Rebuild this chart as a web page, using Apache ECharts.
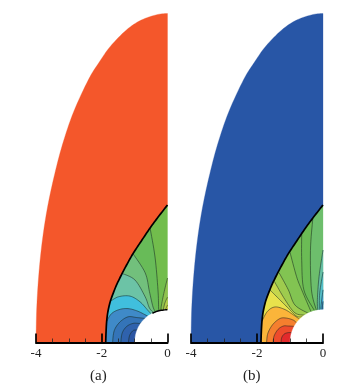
<!DOCTYPE html>
<html><head><meta charset="utf-8">
<style>html,body{margin:0;padding:0;background:#fff}#c{width:346px;height:389px}</style>
<script src="https://cdn.jsdelivr.net/npm/echarts@6/dist/echarts.min.js"></script></head>
<body><div id="c"></div>
<script>
const xTicks=[-4,-2,0];
const panelLabels=['(a)','(b)'];
const outerBoundary=[[-4,0],[-3.98,1],[-3.92,2],[-3.82,3],[-3.67,4],[-3.46,5],[-3.2,6],[-2.86,7],[-2.4,8],[-2.09,8.5],[-1.74,9],[-1.25,9.5],[-.8,9.8],[-.3,9.97],[0,10]];
const shockLine=[[0,4.18],[-.28,3.82],[-.53,3.48],[-.8,3.08],[-1.05,2.7],[-1.22,2.4],[-1.38,2.1],[-1.55,1.75],[-1.65,1.5],[-1.74,1.25],[-1.81,.95],[-1.85,.65],[-1.87,.3],[-1.88,0]];
const bodyArc=[[-1,0],[-.966,.26],[-.87,.5],[-.71,.71],[-.5,.87],[-.26,.966],[0,1]];
const bodyTopA=[[-.46,.89],[-.26,.966],[0,1]];

const contoursA=[
 [[-1.19,0],[-1.15,.22],[-1.05,.36],[-.95,.38],[-.9,.42]],
 [[-1.42,0],[-1.38,.28],[-1.25,.48],[-1.05,.58],[-.85,.58],[-.8,.6]],
 [[-1.67,0],[-1.62,.36],[-1.45,.62],[-1.2,.78],[-.95,.76],[-.68,.73]],
 [[-1.85,.65],[-1.7,.88],[-1.47,1.0],[-1.2,1.03],[-.9,.95],[-.6,.8]],
 [[-1.74,1.25],[-1.49,1.39],[-1.14,1.41],[-.84,1.24],[-.6,.98],[-.5,.87]],
 [[-1.38,2.1],[-.99,1.9],[-.68,1.39],[-.55,1.05],[-.42,.9]],
 [[-1.05,2.7],[-.68,2.12],[-.55,1.55],[-.44,1.08],[-.36,.93]],
 [[-.53,3.48],[-.38,2.6],[-.29,1.6],[-.27,1.05],[-.26,.966]]
];
const colorsA=['#2b55a3','#2f62ad','#3474b8','#3f8ac8','#40bfdd','#6cc3a6','#72c07c','#68bb58'];
const baseA='#72bd4c';
const pocketsA=[
 [[0,1.96],[-.1,1.55],[-.19,1.1],[-.19,.98]],
 [[0,1.38],[-.08,1.2],[-.13,.99]],
 [[0,1.14],[-.06,1]]
];
const pocketColorsA=['#8fc24d','#b5cc4c','#d9da4c'];
const freeA='#f4572b';

const contoursB=[
 [[-1.27,0],[-1.25,.15],[-1.17,.26],[-1.05,.3],[-.95,.3]],
 [[-1.51,0],[-1.48,.2],[-1.36,.4],[-1.2,.5],[-1.05,.5],[-.87,.49]],
 [[-1.71,0],[-1.67,.28],[-1.52,.55],[-1.3,.73],[-1.1,.74],[-.9,.68],[-.8,.6]],
 [[-1.85,.65],[-1.68,.95],[-1.45,1.08],[-1.15,1],[-.9,.84],[-.71,.71]],
 [[-1.61,1.6],[-1.35,1.34],[-1.05,1.04],[-.8,.8],[-.62,.78]],
 [[-1.47,1.85],[-1.15,1.3],[-.85,.9],[-.55,.83]],
 [[-1.33,2.12],[-1.05,1.6],[-.85,1.14],[-.45,.89]],
 [[-1,2.74],[-.8,2.0],[-.645,1.6],[-.36,.93]],
 [[-.645,3.33],[-.645,2.5],[-.58,1.6],[-.26,.97]],
 [[-.31,3.76],[-.38,2.8],[-.35,1.6],[-.2,.98]]
];
const colorsB=['#e32a2c','#ee4b2c','#f57f2e','#fbb53a','#e8e14c','#c5d64d','#9ecb4e','#82c452','#73bf53','#6bbc55'];
const baseB='#6dbe6c';
const pocketsB=[
 [[0,2.81],[-.12,2.0],[-.17,1.3],[-.16,.98]],
 [[0,2.14],[-.1,1.5],[-.11,.99]],
 [[0,1.6],[-.05,1.2],[-.07,1]],
 [[0,1.25],[-.03,1]]
];
const pocketColorsB=['#65bfa4','#54bfc9','#43abe0','#3a78bd'];
const freeB='#2856a6';

function curve(p){
  const out=[];
  for(let i=0;i<p.length-1;i++){
    const a=p[Math.max(i-1,0)],b=p[i],c=p[i+1],d=p[Math.min(i+2,p.length-1)];
    for(let k=0;k<8;k++){
      const t=k/8,t2=t*t,t3=t2*t;
      out.push([0,1].map(j=>.5*(2*b[j]+(c[j]-a[j])*t+(2*a[j]-5*b[j]+4*c[j]-d[j])*t2+(3*b[j]-a[j]-3*c[j]+d[j])*t3)));
    }
  }
  out.push(p[p.length-1]);
  return out;
}
function fillSeries(ax,layers,z){
  return {type:'custom',coordinateSystem:'cartesian2d',xAxisIndex:ax,yAxisIndex:ax,silent:true,clip:false,z,
    data:layers.map((l,i)=>[i]),
    renderItem(params,api){
      const l=layers[params.dataIndex];
      return {type:l.line?'polyline':'polygon',shape:{points:l.pts.map(p=>api.coord(p))},
        style:l.line?{stroke:l.line,lineWidth:l.w,fill:null}:{fill:l.fill,stroke:l.fill,lineWidth:.3}};
    }};
}
function panel(ax,contours,colors,base,pockets,pocketColors,free,topLine){
  const sh=curve(shockLine);
  const fills=[{pts:[...sh,[-.3,0],[0,0]],fill:base}];
  for(let i=contours.length-1;i>=0;i--){
    const c=curve(contours[i]);
    fills.push({pts:[[-3,0],[-3,c[0][1]],...c,[-.3,.3],[-.3,0]],fill:colors[i]});
  }
  pockets.forEach((q,i)=>fills.push({pts:[...curve(q),[0,.5]],fill:pocketColors[i]}));
  const freePoly=[...curve(outerBoundary),...sh];
  const bodyPoly=[...curve(bodyArc),[.03,1],[.03,0]];
  const lines=[...contours,...pockets].map(c=>({pts:curve(c),line:'rgba(25,45,35,.8)',w:.7}));
  const bold=[{pts:sh,line:'#000',w:1.7}];
  if(topLine) bold.push({pts:curve(topLine),line:'#000',w:1.5});
  return [
    fillSeries(ax,fills,1),
    fillSeries(ax,[{pts:freePoly,fill:free}],2),
    fillSeries(ax,lines,3),
    fillSeries(ax,[{pts:bodyPoly,fill:'#fff'}],4),
    fillSeries(ax,bold,5)
  ];
}
const axisBase={type:'value',min:-4,max:0,interval:2,z:10,
  axisLine:{show:true,onZero:false,lineStyle:{color:'#000',width:2}},
  axisTick:{show:true,inside:true,length:9,lineStyle:{color:'#000',width:1.7}},
  minorTick:{show:true,splitNumber:4,length:4,lineStyle:{color:'#222',width:.8}},
  splitLine:{show:false},
  axisLabel:{color:'#222',fontFamily:'Liberation Serif',fontSize:13,margin:5,formatter:v=>xTicks.includes(v)?String(v):''}};
const yAxisBase={type:'value',min:0,max:10,show:false};
const chart=echarts.init(document.getElementById('c'),null,{renderer:'canvas'});
const ts={fontFamily:'Liberation Serif',fontSize:15,fontWeight:'normal',color:'#222'};
chart.setOption({animation:false,
  grid:[{left:36,width:131.5,top:13.5,height:329},{left:191,width:132,top:13.5,height:329}],
  xAxis:[{...axisBase,gridIndex:0},{...axisBase,gridIndex:1}],
  yAxis:[{...yAxisBase,gridIndex:0},{...yAxisBase,gridIndex:1}],
  title:[
   {text:panelLabels[0],left:90,top:369,textStyle:ts,padding:0},
   {text:panelLabels[1],left:243,top:369,textStyle:ts,padding:0}],
  series:[...panel(0,contoursA,colorsA,baseA,pocketsA,pocketColorsA,freeA,bodyTopA),
          ...panel(1,contoursB,colorsB,baseB,pocketsB,pocketColorsB,freeB,null)]
});
</script></body></html>
